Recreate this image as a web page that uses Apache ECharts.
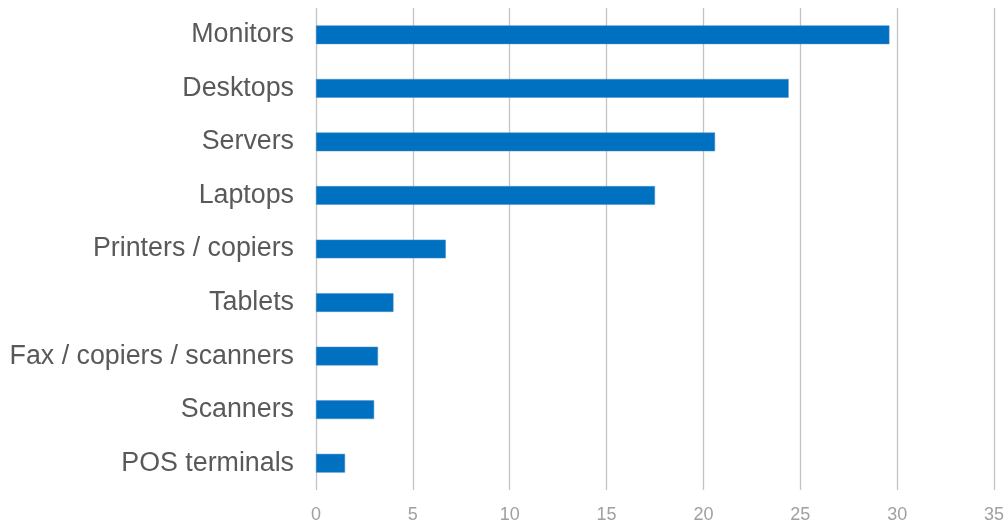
<!DOCTYPE html>
<html>
<head>
<meta charset="utf-8">
<script src="https://cdn.jsdelivr.net/npm/echarts@6/dist/echarts.min.js"></script>
<style>
  html, body { margin: 0; padding: 0; background: #ffffff; }
  #chart { width: 1008px; height: 524px; }
</style>
</head>
<body>
<div id="chart"></div>
<script>
// Device categories, listed top to bottom
const categories = [
  'Monitors',
  'Desktops',
  'Servers',
  'Laptops',
  'Printers / copiers',
  'Tablets',
  'Fax / copiers / scanners',
  'Scanners',
  'POS terminals'
];

// Value for each category
const values = [29.6, 24.4, 20.6, 17.5, 6.7, 4.0, 3.2, 3.0, 1.5];

// Value axis ticks
const axisMin = 0;
const axisMax = 35;
const axisStep = 5;

const chart = echarts.init(document.getElementById('chart'), null, { renderer: 'canvas' });

chart.setOption({
  animation: false,
  backgroundColor: '#ffffff',
  grid: {
    left: 316,
    right: 14,
    top: 8,
    bottom: 34,
    containLabel: false
  },
  xAxis: {
    type: 'value',
    min: axisMin,
    max: axisMax,
    interval: axisStep,
    axisLine: { show: false },
    axisTick: { show: false },
    axisLabel: {
      color: '#a0a0a0',
      fontSize: 18,
      fontFamily: 'Liberation Sans, Arial, sans-serif',
      margin: 16
    },
    splitLine: {
      show: true,
      lineStyle: { color: '#c4c4c4', width: 1.3 }
    }
  },
  yAxis: {
    type: 'category',
    data: categories,
    inverse: true,
    axisLine: { show: false },
    axisTick: { show: false },
    axisLabel: {
      color: '#595959',
      fontSize: 26.8,
      fontFamily: 'Liberation Sans, Arial, sans-serif',
      margin: 22,
      padding: [4, 0, 0, 0]
    }
  },
  series: [{
    type: 'bar',
    data: values,
    barWidth: '35%',
    itemStyle: {
      color: '#0070c0',
      borderColor: '#4a8fc8',
      borderWidth: 0.5
    }
  }]
});
</script>
</body>
</html>
